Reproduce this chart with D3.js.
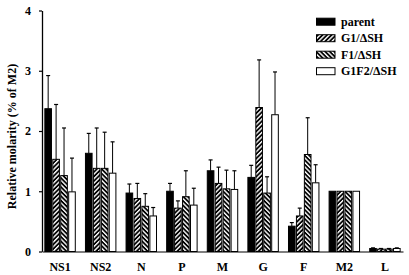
<!DOCTYPE html>
<html>
<head>
<meta charset="utf-8">
<script src="https://cdn.jsdelivr.net/npm/d3@7"></script>
<style>
  body { margin: 0; background: #fff; }
  svg text { font-family: "Liberation Serif", "Times New Roman", serif; font-weight: bold; }
</style>
</head>
<body>
<svg id="chart" width="409" height="275"></svg>
<script>
// dados
const categorias = ['NS1', 'NS2', 'N', 'P', 'M', 'G', 'F', 'M2', 'L'];
const series = ['parent', 'G1/\u0394SH', 'F1/\u0394SH', 'G1F2/\u0394SH'];

const parent     = [2.37, 1.63, 0.97, 1.00, 1.34, 1.23, 0.42, 1.00, 0.05];
const parent_err = [0.55, 0.33, 0.15, 0.13, 0.18, 0.20, 0.06, 0, 0.01];
const g1         = [1.53, 1.38, 0.88, 0.72, 1.13, 2.39, 0.59, 1.00, 0.04];
const g1_err     = [0.91, 0.67, 0.25, 0.12, 0.27, 0.79, 0.13, 0, 0.01];
const f1         = [1.26, 1.38, 0.75, 0.91, 1.04, 0.97, 1.61, 1.00, 0.04];
const f1_err     = [0.79, 0.60, 0.21, 0.43, 0.31, 0.27, 0.61, 0, 0.01];
const g1f2       = [0.99, 1.30, 0.59, 0.77, 1.03, 2.27, 1.14, 1.00, 0.05];
const g1f2_err   = [0.56, 0.52, 0.14, 0.28, 0.31, 0.71, 0.30, 0, 0.01];

const yTicks = [0, 1, 2, 3, 4];

const valores = [parent, g1, f1, g1f2];
const erros = [parent_err, g1_err, f1_err, g1f2_err];
const preench = ['#000', 'url(#hatch-g1)', 'url(#hatch-f1)', '#fff'];

const svg = d3.select('#chart');

const margin = { top: 10.5, left: 42 };
const width = 361;
const height = 241;

/*padroes de hachura*/
const defs = svg.append('defs');
function hachura (id, ang) {
    const p = defs.append('pattern')
        .attr('id', id)
        .attr('patternUnits', 'userSpaceOnUse')
        .attr('width', 3.2)
        .attr('height', 3.2)
        .attr('patternTransform', `rotate(${ang})`);
    p.append('rect').attr('width', 3.2).attr('height', 3.2).attr('fill', '#000');
    p.append('rect').attr('x', 0).attr('width', 1.4).attr('height', 3.2).attr('fill', '#fff');
}
hachura('hatch-g1', 45);
hachura('hatch-f1', -45);

const chart = svg.append('g')
    .attr('transform', `translate(${margin.left}, ${margin.top})`);

const x0 = d3.scaleBand()
    .range([0, width])
    .domain(categorias)
    .paddingInner(0.21)
    .paddingOuter(0.05);

const x1 = d3.scaleBand()
    .range([0, x0.bandwidth()])
    .domain(series)
    .padding(0.04);

const yScale = d3.scaleLinear()
    .range([height, 0])
    .domain([0, 4]);

/*eixo y*/
const eixoY = chart.append('g')
    .call(d3.axisLeft(yScale)
        .tickValues(yTicks)
        .tickFormat(d3.format('d'))
        .tickSize(3)
        .tickSizeOuter(0)
        .tickPadding(8));
eixoY.selectAll('text').style('font-size', '12px').attr('fill', '#000');
eixoY.select('.domain').attr('stroke', '#000').attr('stroke-width', 1.3);
eixoY.selectAll('.tick line').attr('stroke', '#000').attr('stroke-width', 1.2);

/*eixo x*/
const eixoX = chart.append('g')
    .attr('transform', `translate(0, ${height})`)
    .call(d3.axisBottom(x0).tickSize(0).tickSizeOuter(0).tickPadding(11));
eixoX.selectAll('text').style('font-size', '12px').attr('fill', '#000');
eixoX.select('.domain').attr('stroke', '#555').attr('stroke-width', 1.3);

/*barras*/
const grupos = chart.selectAll('.grupo')
    .data(categorias)
    .enter()
    .append('g')
    .attr('class', 'grupo')
    .attr('transform', (c) => `translate(${x0(c)}, 0)`);

const barras = grupos.selectAll('.item')
    .data((c, i) => series.map((s, k) => ({ s: s, k: k, v: valores[k][i], e: erros[k][i] })))
    .enter()
    .append('g')
    .attr('class', 'item');

/*barra de erro (so superior)*/
barras.filter((d) => d.e > 0)
    .append('line')
    .attr('x1', (d) => x1(d.s) + x1.bandwidth() / 2)
    .attr('x2', (d) => x1(d.s) + x1.bandwidth() / 2)
    .attr('y1', (d) => yScale(d.v))
    .attr('y2', (d) => yScale(d.v + d.e))
    .attr('stroke', '#000')
    .attr('stroke-width', 1);

barras.filter((d) => d.e > 0)
    .append('line')
    .attr('x1', (d) => x1(d.s) + x1.bandwidth() / 2 - 2)
    .attr('x2', (d) => x1(d.s) + x1.bandwidth() / 2 + 2)
    .attr('y1', (d) => yScale(d.v + d.e))
    .attr('y2', (d) => yScale(d.v + d.e))
    .attr('stroke', '#000')
    .attr('stroke-width', 1.2);

barras.append('rect')
    .attr('x', (d) => x1(d.s) + 0.5)
    .attr('y', (d) => yScale(d.v))
    .attr('width', x1.bandwidth() - 1)
    .attr('height', (d) => height - yScale(d.v))
    .attr('fill', (d) => preench[d.k])
    .attr('stroke', '#000')
    .attr('stroke-width', 1);

/*titulo eixo y*/
svg.append('text')
    .attr('transform', `translate(16, ${margin.top + 126}) rotate(-90)`)
    .attr('text-anchor', 'middle')
    .style('font-size', '12px')
    .text('Relative molarity (% of M2)');

/*legenda*/
const legenda = svg.append('g')
    .attr('transform', 'translate(316, 21.7)');

const itens = legenda.selectAll('g')
    .data(series)
    .enter()
    .append('g')
    .attr('transform', (s, i) => `translate(0, ${i * 16.5})`);

itens.append('rect')
    .attr('x', 0.5)
    .attr('y', -3.5)
    .attr('width', 18.5)
    .attr('height', 7)
    .attr('fill', (s, i) => preench[i])
    .attr('stroke', '#000')
    .attr('stroke-width', 1);

itens.append('text')
    .attr('x', 25)
    .attr('y', 0)
    .attr('dy', '0.35em')
    .style('font-size', '12px')
    .text((s) => s);
</script>
</body>
</html>
